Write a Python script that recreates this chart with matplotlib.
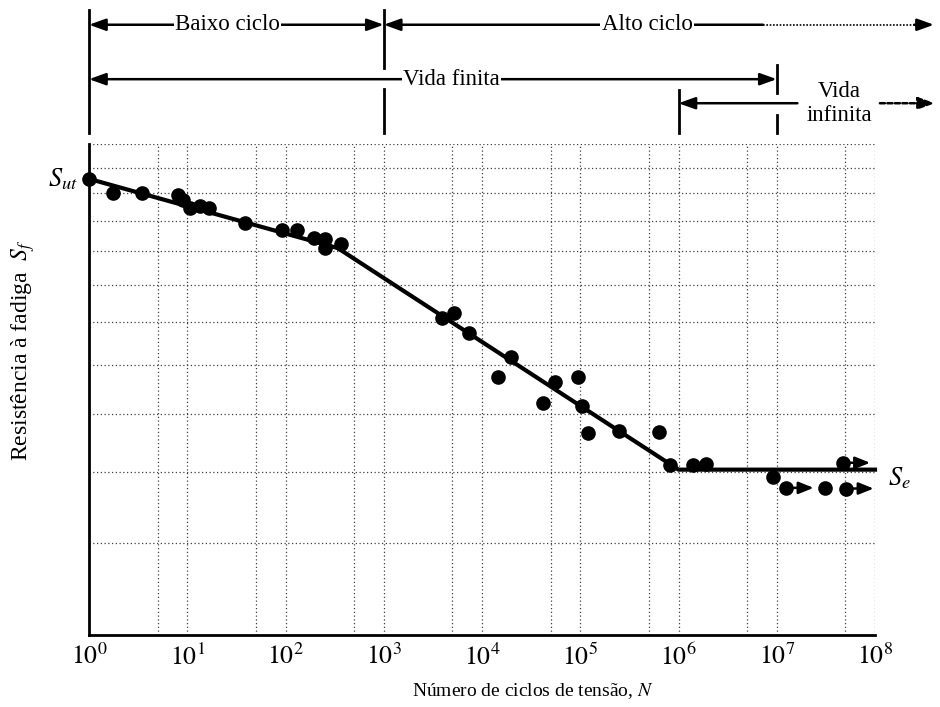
import numpy as np
import matplotlib
matplotlib.use('Agg')
import matplotlib.pyplot as plt
from matplotlib.transforms import blended_transform_factory
from matplotlib.ticker import FixedLocator, NullFormatter, NullLocator

# data (cycles, strength in arbitrary units on log scale)
cycles = [1, 1.75, 3.45, 8.0, 9.0, 10.6, 13.4, 16.5, 39, 93, 130, 196, 250, 250, 370,
          3900, 5200, 7400, 19600, 14600, 55000, 95000, 41700, 1.03e5, 1.2e5, 2.5e5,
          6.4e5, 8.1e5, 1.42e6, 1.92e6, 9.2e6, 3.1e7]
strength = [125.5, 120.0, 120.0, 119.3, 117.4, 114.5, 115.3, 114.5, 109.2, 106.9, 106.9,
            104.3, 103.9, 101.0, 102.4, 81.1, 82.4, 77.4, 71.8, 67.4, 66.3, 67.4, 62.1,
            61.5, 56.6, 56.9, 56.7, 51.1, 51.1, 51.3, 49.3, 47.6]
runout_cycles = [1.25e7, 5.1e7, 4.7e7]
runout_strength = [47.6, 47.5, 51.5]

curve_cycles = [1, 340, 1e6, 1e8]
curve_strength = [125.5, 101.0, 50.4, 50.4]

decades = list(range(0, 9))
grid_levels = [40, 50, 60, 70, 80, 90, 100, 110, 120, 130, 140]

plt.rcParams['font.family'] = ['Liberation Serif', 'DejaVu Serif']
plt.rcParams['mathtext.fontset'] = 'stix'

fig = plt.figure(figsize=(9.4, 7.07), dpi=100)
ax = fig.add_axes([89 / 940, 1 - 635 / 707, (875 - 89) / 940, (635 - 144) / 707])
ax.set_xscale('log')
ax.set_yscale('log')
ax.set_xlim(1, 1e8)
ax.set_ylim(30, 140)

ax.plot(curve_cycles, curve_strength, color='black', lw=3, zorder=3, clip_on=False)
ax.plot(cycles, strength, 'o', color='black', ms=9.5, zorder=4, clip_on=False)
ax.plot(runout_cycles, runout_strength, 'o', color='black', ms=9.5, zorder=4, clip_on=False)
for n, s in zip(runout_cycles, runout_strength):
    ax.annotate('', xy=(n * 1.9, s), xytext=(n, s),
                arrowprops=dict(arrowstyle='-|>,head_length=0.45,head_width=0.18', color='black',
                                lw=1.8, shrinkA=0, shrinkB=0, mutation_scale=20),
                annotation_clip=False)

# ticks and grid
ax.set_xticks([10.0 ** k for k in decades], labels=[f'$10^{{{k}}}$' for k in decades])
ax.xaxis.set_minor_locator(FixedLocator([5 * 10.0 ** k for k in decades[:-1]]))
ax.xaxis.set_minor_formatter(NullFormatter())
ax.set_yticks(grid_levels)
ax.set_yticklabels([])
ax.yaxis.set_minor_locator(NullLocator())
ax.tick_params(which='both', length=0)
ax.tick_params(axis='x', labelsize=18.5, pad=6)
ax.grid(which='both', ls=(0, (1, 2)), color='0.25', lw=0.9)
for side in ['top', 'right']:
    ax.spines[side].set_visible(False)
for side in ['left', 'bottom']:
    ax.spines[side].set_linewidth(2)

ax.set_xlabel('Número de ciclos de tensão, $N$', fontsize=14)
ax.xaxis.set_label_coords(0.565, -0.095)
ax.set_ylabel('Resistência à fadiga  $S_f$', fontsize=17)
ax.yaxis.set_label_coords(-0.066, 0.58)

ax.annotate('$S_{ut}$', xy=(1, 125.5), xytext=(-8, 0), textcoords='offset points',
            ha='right', va='center', fontsize=19, annotation_clip=False)
ax.annotate('$S_e$', xy=(1e8, 50.4), xytext=(9, -6), textcoords='offset points',
            ha='left', va='center', fontsize=19, annotation_clip=False)

# life range annotations above the plot
trans = blended_transform_factory(ax.transData, fig.transFigure)
vlines = [(1, [(0.986, 0.812)]),
          (1e3, [(0.986, 0.904), (0.874, 0.812)]),
          (1e6, [(0.873, 0.812)]),
          (1e7, [(0.908, 0.868), (0.837, 0.812)])]
for n, segs in vlines:
    for a, b in segs:
        ax.plot([n, n], [a, b], transform=trans, color='black', lw=2, clip_on=False)

y1, y2, y3 = 0.965, 0.888, 0.854
head = '-|>,head_length=0.5,head_width=0.18'
both = '<|-|>,head_length=0.5,head_width=0.18'


def arrow(x0, x1, y, style, ls='-'):
    ax.annotate('', xy=(x1, y), xytext=(x0, y), xycoords=trans, textcoords=trans,
                arrowprops=dict(arrowstyle=style, color='black', lw=1.8, ls=ls,
                                shrinkA=0, shrinkB=0, mutation_scale=20),
                annotation_clip=False)


def label(x, y, s):
    ax.text(x, y, s, transform=trans, ha='center', va='center', fontsize=16.5,
            bbox=dict(fc='white', ec='none', pad=1), zorder=5, linespacing=1.1)


arrow(1, 1e3, y1, both)
label(10 ** 1.41, y1, 'Baixo ciclo')
arrow(10 ** 6.86, 1e3, y1, head)
ax.plot([10 ** 6.86, 10 ** 8.45], [y1, y1], transform=trans, color='black', lw=1.2,
        ls=(0, (1, 1)), clip_on=False)
arrow(10 ** 8.4, 10 ** 8.6, y1, head)
label(10 ** 5.68, y1, 'Alto ciclo')

arrow(1, 1e7, y2, both)
label(10 ** 3.69, y2, 'Vida finita')

arrow(10 ** 7.21, 1e6, y3, head)
ax.text(10 ** 7.64, y3, 'Vida\ninfinita', transform=trans, ha='center', va='center',
        fontsize=16.5, linespacing=1.2)
arrow(10 ** 8.05, 10 ** 8.61, y3, head, ls=(0, (2, 1)))

fig.savefig('out.png', dpi=100)
